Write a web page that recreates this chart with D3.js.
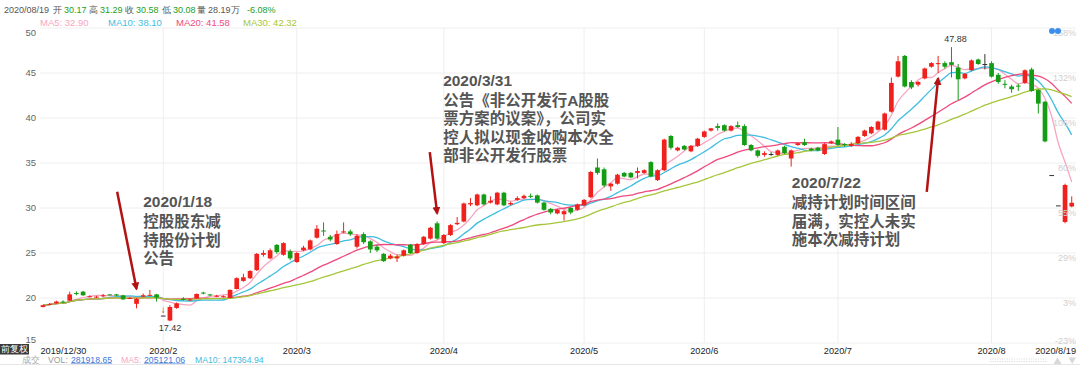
<!DOCTYPE html>
<html>
<head>
<meta charset="utf-8">
<script src="https://cdn.jsdelivr.net/npm/d3@7"></script>
<style>
  html, body { margin: 0; padding: 0; background: #fff; }
  svg { display: block; font-family: "Liberation Sans", Arial, sans-serif; }
</style>
</head>
<body>
<div id="chart"></div>
<script>
// trading days shown, month by month
const MONTH_DAYS = [
  ['2019/12', [30, 31]],
  ['2020/1', [2, 3, 6, 7, 8, 9, 10, 13, 14, 15, 16, 17, 20, 21, 22, 23]],
  ['2020/2', [3, 4, 5, 6, 7, 10, 11, 12, 13, 14, 17, 18, 19, 20, 21, 24, 25, 26, 27, 28]],
  ['2020/3', [2, 3, 4, 5, 6, 9, 10, 11, 12, 13, 16, 17, 18, 19, 20, 23, 24, 25, 26, 27, 30, 31]],
  ['2020/4', [1, 2, 3, 7, 8, 9, 10, 13, 14, 15, 16, 17, 20, 21, 22, 23, 24, 27, 28, 29, 30]],
  ['2020/5', [6, 7, 8, 11, 12, 13, 14, 15, 18, 19, 20, 21, 22, 25, 26, 27, 28, 29]],
  ['2020/6', [1, 2, 3, 4, 5, 8, 9, 10, 11, 12, 15, 16, 17, 18, 19, 22, 23, 24, 29, 30]],
  ['2020/7', [1, 2, 3, 6, 7, 8, 9, 10, 13, 14, 15, 16, 17, 20, 21, 22, 23, 24, 27, 28, 29, 30, 31]],
  ['2020/8', [3, 4, 5, 6, 7, 10, 11, 12, 13, 14, 17, 18, 19]]
]

const OPEN = [
  19.0, 19.25, 19.4, 19.6, 19.7, 20.55, 20.7, 20.1, 20.05, 20.2,
  20.4, 20.4, 20.3, 19.95, 19.35, 20.15, 20.25, 20.4, 18.05, 17.5,
  18.9, 19.9, 19.78, 19.95, 20.6, 20.4, 20.15, 20.1, 20.0, 21.0,
  21.9, 22.2, 23.1, 24.8, 24.4, 25.9, 24.8, 25.2, 24.0, 25.3,
  25.4, 26.7, 27.5, 26.8, 26.0, 27.3, 27.4, 25.7, 27.1, 26.3,
  25.7, 24.9, 24.4, 24.4, 24.7, 25.9, 25.0, 26.0, 26.6, 28.3,
  26.1, 27.0, 28.2, 28.5, 30.4, 30.3, 31.5, 30.6, 30.4, 31.7,
  30.4, 30.9, 31.1, 31.35, 31.4, 30.6, 29.9, 29.4, 29.3, 30.0,
  29.8, 30.3, 31.2, 34.5, 34.3, 32.4, 32.7, 33.9, 33.9, 33.9,
  33.9, 35.1, 33.1, 34.2, 38.0, 36.4, 36.9, 36.3, 36.9, 37.9,
  38.6, 39.1, 39.2, 38.6, 39.2, 39.1, 37.0, 36.4, 35.9, 36.0,
  35.9, 36.8, 35.5, 37.0, 37.3, 36.6, 36.7, 36.0, 37.2, 37.6,
  37.1, 36.9, 37.2, 38.0, 38.3, 38.7, 38.7, 40.7, 44.6, 46.9,
  44.0, 43.7, 44.4, 45.7, 46.0, 46.1, 46.2, 45.6, 44.4, 45.3,
  46.5, 46.0, 46.1, 44.8, 43.8, 43.5, 43.6, 43.9, 45.4, 43.1,
  41.8, 33.66, 30.29, 28.45, 30.17
]
const HIGH = [
  19.25, 19.45, 19.7, 19.75, 20.7, 20.75, 20.8, 20.3, 20.25, 20.45,
  20.45, 20.45, 20.35, 20.1, 20.0, 20.5, 20.9, 20.45, 18.05, 19.2,
  19.5, 20.1, 19.95, 20.5, 20.7, 20.45, 20.35, 20.3, 20.95, 22.3,
  22.7, 23.1, 25.0, 25.3, 25.5, 26.0, 26.2, 25.4, 25.1, 25.8,
  26.5, 28.1, 28.4, 27.0, 27.5, 28.4, 27.6, 27.1, 27.3, 26.4,
  25.9, 25.0, 24.9, 24.8, 25.4, 26.0, 26.1, 26.9, 27.9, 28.5,
  27.1, 28.2, 29.0, 30.6, 31.1, 31.6, 31.6, 31.3, 31.8, 31.8,
  30.7, 31.3, 31.5, 31.6, 31.5, 30.7, 30.0, 29.9, 29.8, 30.1,
  30.5, 31.0, 34.1, 35.5, 34.5, 32.8, 33.8, 34.0, 34.0, 34.5,
  34.3, 35.2, 34.3, 37.7, 38.1, 36.8, 37.0, 37.0, 37.8, 38.6,
  38.9, 39.4, 39.3, 39.2, 39.6, 39.3, 37.1, 36.5, 36.3, 36.2,
  36.5, 36.9, 36.5, 37.3, 37.7, 36.7, 36.8, 37.2, 37.5, 39.0,
  37.2, 37.3, 38.0, 38.7, 39.1, 39.7, 40.6, 44.5, 46.9, 47.0,
  44.2, 44.1, 45.6, 46.2, 46.9, 46.3, 47.88, 46.0, 45.0, 46.5,
  46.6, 47.1, 46.3, 45.0, 44.2, 43.7, 43.8, 45.4, 45.6, 43.2,
  41.9, 33.66, 30.29, 32.7, 31.29
]
const LOW = [
  18.95, 19.2, 19.35, 19.4, 19.65, 20.3, 20.25, 20.05, 20.0, 20.1,
  20.3, 20.2, 19.8, 19.9, 18.85, 20.1, 20.2, 19.6, 18.05, 17.42,
  18.8, 19.7, 19.7, 19.9, 20.4, 20.2, 20.1, 20.05, 19.95, 20.95,
  21.8, 22.1, 23.0, 24.6, 24.3, 24.9, 24.7, 24.2, 23.9, 25.2,
  25.3, 26.6, 26.9, 26.3, 25.9, 27.2, 26.9, 25.5, 26.0, 25.0,
  25.1, 24.0, 24.3, 24.0, 24.6, 24.9, 24.9, 25.9, 26.5, 26.5,
  26.0, 26.9, 28.1, 28.4, 30.2, 30.2, 30.3, 30.5, 30.3, 30.2,
  30.3, 30.8, 31.0, 31.1, 30.5, 29.7, 29.3, 29.3, 28.6, 29.3,
  29.7, 30.2, 31.1, 33.7, 32.3, 31.9, 32.6, 33.4, 33.3, 33.3,
  33.8, 33.4, 33.0, 34.1, 36.5, 36.3, 36.4, 36.2, 36.8, 37.8,
  38.5, 38.6, 38.5, 38.5, 38.9, 36.9, 36.3, 35.6, 35.7, 35.8,
  35.8, 36.0, 34.6, 36.9, 36.9, 36.3, 36.3, 35.9, 37.1, 36.9,
  36.8, 36.8, 37.1, 37.9, 38.2, 38.6, 38.6, 40.6, 44.5, 43.4,
  43.2, 43.5, 44.3, 45.6, 45.0, 45.5, 44.5, 42.0, 44.3, 45.2,
  45.9, 45.4, 44.5, 43.8, 43.3, 42.8, 43.0, 43.8, 42.9, 40.5,
  37.3, 33.66, 30.29, 28.3, 30.08
]
const CLOSE = [
  19.2, 19.35, 19.6, 19.5, 20.4, 20.45, 20.3, 20.2, 20.15, 20.3,
  20.35, 20.3, 19.85, 20.0, 19.9, 20.3, 20.35, 20.05, 18.05, 19.0,
  19.4, 19.8, 19.82, 20.45, 20.5, 20.3, 20.25, 20.2, 20.9, 22.2,
  22.3, 23.0, 24.9, 25.0, 25.3, 25.1, 26.1, 24.4, 25.0, 25.6,
  26.4, 27.7, 27.4, 26.5, 27.1, 27.4, 27.1, 26.9, 26.2, 25.4,
  25.3, 24.1, 24.7, 24.6, 25.3, 25.0, 26.0, 26.8, 27.8, 26.6,
  27.0, 28.1, 28.35, 30.5, 30.55, 31.5, 30.4, 30.8, 31.7, 30.3,
  30.55, 31.1, 31.35, 31.3, 30.6, 29.8, 29.5, 29.8, 29.65, 29.5,
  30.4, 30.9, 34.0, 33.9, 32.5, 32.7, 33.7, 33.5, 33.4, 34.1,
  34.2, 33.5, 34.2, 37.6, 36.7, 36.7, 36.5, 36.9, 37.7, 38.5,
  38.85, 38.9, 38.6, 39.1, 39.0, 37.0, 36.4, 35.8, 36.1, 36.0,
  36.4, 36.1, 36.4, 37.2, 37.0, 36.4, 36.4, 37.1, 37.4, 37.0,
  37.0, 37.1, 37.9, 38.6, 39.0, 39.6, 40.5, 43.9, 46.3, 43.5,
  43.4, 44.0, 45.5, 46.1, 46.1, 45.7, 45.9, 44.3, 44.9, 46.4,
  46.0, 46.0, 44.6, 44.0, 43.7, 43.2, 43.5, 45.3, 43.0, 41.6,
  37.4, 33.66, 30.29, 32.56, 30.58
]

const MA_PERIODS = [5, 10, 20, 30]
const MA_LAST = ['32.90', '38.10', '41.58', '42.32']
const BASE_PRICE = 19.40
const PRICE_TICKS = [15, 20, 25, 30, 35, 40, 45, 50]

const QUOTE_DATE = '2020/08/19'
const QUOTE = [['开', '30.17'], ['高', '31.29'], ['收', '30.58'], ['低', '30.08']]
const QUOTE_VOL = '28.19万'
const QUOTE_CHG = '-6.08%'
const VOL_VALUES = ['281918.65', '205121.06', '147364.94']

const NOTES = [
  { tip: [14, 21.0], tail: [11.1, 31.8], at: [15.0, 30.67],
    lines: ['2020/1/18', '控股股东减', '持股份计划', '公告'] },
  { tip: [59, 29.4], tail: [57.9, 36.2], at: [59.9, 44.2],
    lines: ['2020/3/31', '公告《非公开发行A股股', '票方案的议案》，公司实', '控人拟以现金收购本次全', '部非公开发行股票'] },
  { tip: [134, 44.4], tail: [132.3, 31.8], at: [112.1, 32.8],
    lines: ['2020/7/22', '减持计划时间区间', '届满，实控人未实', '施本次减持计划'] }
]

const COLORS = {
  up: '#f0201c',
  down: '#149c14',
  flat: '#333',
  ma: ['#f7a6c2', '#3fbde0', '#ee4a7d', '#a6c63a'],
  grid: '#eeeeee',
  note: '#555',
  arrow: '#b31212'
}

function drawChart () {
  const W = 1080
  const H = 365
  const dates = MONTH_DAYS.flatMap(([m, days]) => days.map(d => `${m}/${d}`))
  const N = dates.length

  const svg = d3.select('#chart').append('svg')
    .attr('width', W).attr('height', H)

  const x = d3.scaleBand()
    .domain(d3.range(N))
    .range([39.66, 1075.06])
    .paddingInner(0.3)
    .paddingOuter(0.15)
  const step = x.step()
  const cx = i => x(0) + x.bandwidth() / 2 + i * step // also takes fractional positions

  const y = d3.scaleLinear().domain([15, 50]).range([343, 28])

  // grid
  svg.append('g').selectAll('line').data(PRICE_TICKS).join('line')
    .attr('x1', 40).attr('x2', 1076)
    .attr('y1', d => y(d)).attr('y2', d => y(d))
    .attr('stroke', COLORS.grid)

  const monthStarts = d3.range(1, N).filter(i => dates[i].slice(0, 7) !== dates[i - 1].slice(0, 7))
  svg.append('g').selectAll('line').data(monthStarts.slice(1)).join('line')
    .attr('x1', i => cx(i)).attr('x2', i => cx(i))
    .attr('y1', y(50)).attr('y2', y(15))
    .attr('stroke', COLORS.grid)

  // left price labels
  svg.append('g').selectAll('text').data(PRICE_TICKS).join('text')
    .attr('x', 36)
    .attr('y', d => Math.min(339.5, Math.max(33, y(d))))
    .attr('dy', '0.35em')
    .attr('text-anchor', 'end')
    .attr('font-size', 9.5)
    .attr('fill', '#666')
    .text(d => d)

  // moving averages
  const ma = MA_PERIODS.map(p => CLOSE.map((c, i) => d3.mean(CLOSE.slice(Math.max(0, i - p + 1), i + 1))))
  const line = d3.line().x((d, i) => cx(i)).y(d => y(d)).curve(d3.curveMonotoneX)
  svg.append('g').selectAll('path').data(ma).join('path')
    .attr('d', line)
    .attr('fill', 'none')
    .attr('stroke', (d, k) => COLORS.ma[k])
    .attr('stroke-width', 1.3)

  // candles
  const color = i => CLOSE[i] > OPEN[i] ? COLORS.up : CLOSE[i] < OPEN[i] ? COLORS.down : COLORS.flat
  const candles = svg.append('g').selectAll('g').data(d3.range(N)).join('g')
  candles.append('line')
    .attr('x1', i => cx(i)).attr('x2', i => cx(i))
    .attr('y1', i => y(HIGH[i])).attr('y2', i => y(LOW[i]))
    .attr('stroke', color)
    .attr('stroke-width', 1)
  candles.append('rect')
    .attr('x', i => x(i))
    .attr('width', x.bandwidth())
    .attr('y', i => y(Math.max(OPEN[i], CLOSE[i])))
    .attr('height', i => Math.max(1, y(Math.min(OPEN[i], CLOSE[i])) - y(Math.max(OPEN[i], CLOSE[i]))))
    .attr('fill', color)

  // extreme markers
  const hi = d3.maxIndex(HIGH)
  const lo = d3.minIndex(LOW)
  svg.append('text')
    .attr('x', cx(hi) + 4).attr('y', y(HIGH[hi]) - 5)
    .attr('text-anchor', 'middle').attr('font-size', 9).attr('fill', '#333')
    .text(HIGH[hi].toFixed(2))
  svg.append('text')
    .attr('x', cx(lo - 1)).attr('y', y(LOW[lo]) - 8)
    .attr('text-anchor', 'middle').attr('font-size', 9.5).attr('fill', '#333')
    .text('↓')
  svg.append('text')
    .attr('x', cx(lo)).attr('y', y(LOW[lo]) + 7)
    .attr('dy', '0.35em')
    .attr('text-anchor', 'middle').attr('font-size', 9).attr('fill', '#333')
    .text(LOW[lo].toFixed(2))

  // right percent labels
  svg.append('g').selectAll('text').data(PRICE_TICKS).join('text')
    .attr('x', 1076)
    .attr('y', d => Math.min(340.5, y(d) + 5))
    .attr('dy', '0.35em')
    .attr('text-anchor', 'end')
    .attr('font-size', 9)
    .attr('fill', '#cfcfcf')
    .text(d => Math.round((d / BASE_PRICE - 1) * 100) + '%')

  // x labels: first day, month starts, last day
  const xLabels = [{ x: 40.5, t: dates[0], a: 'start' }]
    .concat(monthStarts.slice(1).map(i => ({ x: cx(i), t: dates[i].slice(0, dates[i].lastIndexOf('/')), a: 'middle' })))
    .concat([{ x: 1076, t: dates[N - 1], a: 'end' }])
  svg.append('g').selectAll('text').data(xLabels).join('text')
    .attr('x', d => d.x)
    .attr('y', 350.5).attr('dy', '0.35em')
    .attr('text-anchor', d => d.a)
    .attr('font-size', 9.2).attr('fill', '#222')
    .text(d => d.t)

  // annotations
  svg.append('defs').append('marker')
    .attr('id', 'head').attr('viewBox', '0 0 10 10')
    .attr('refX', 8).attr('refY', 5)
    .attr('markerWidth', 3.2).attr('markerHeight', 3.2)
    .attr('orient', 'auto')
    .append('path').attr('d', 'M0,0 L10,5 L0,10 Z').attr('fill', COLORS.arrow)

  NOTES.forEach(n => {
    svg.append('line')
      .attr('x1', cx(n.tail[0])).attr('y1', y(n.tail[1]))
      .attr('x2', cx(n.tip[0])).attr('y2', y(n.tip[1]))
      .attr('stroke', COLORS.arrow).attr('stroke-width', 2.5)
      .attr('marker-end', 'url(#head)')
    // one text per line; Latin primary font keeps line boxes tight
    svg.append('g').selectAll('text').data(n.lines).join('text')
      .attr('x', cx(n.at[0]))
      .attr('y', (d, k) => y(n.at[1]) + (k === 0 ? 0 : 20 + (k - 1) * 18.5))
      .attr('dy', '0.35em')
      .attr('font-family', '"Liberation Sans", "Noto Sans CJK SC", sans-serif')
      .attr('font-weight', 700)
      .attr('font-size', 15.5)
      .attr('fill', COLORS.note)
      .text(d => d)
  })

  // header quote line
  const head = svg.append('g').attr('font-size', 9)
  head.append('text').attr('x', 4).attr('y', 13).attr('fill', '#555').text(QUOTE_DATE)
  const qx = [53, 89, 125, 162]
  QUOTE.forEach(([k, v], j) => {
    head.append('text').attr('x', qx[j]).attr('y', 13).attr('fill', '#555').text(k)
    head.append('text').attr('x', qx[j] + 11).attr('y', 13).attr('fill', '#22a022').text(v)
  })
  head.append('text').attr('x', 197).attr('y', 13).attr('fill', '#555').text('量')
  head.append('text').attr('x', 208).attr('y', 13).attr('fill', '#555').text(QUOTE_VOL)
  head.append('text').attr('x', 247).attr('y', 13).attr('fill', '#22a022').text(QUOTE_CHG)

  const maX = [40, 108, 176, 243]
  svg.append('g').selectAll('text').data(MA_PERIODS).join('text')
    .attr('x', (d, k) => maX[k]).attr('y', 25.5)
    .attr('font-size', 9.5)
    .attr('fill', (d, k) => COLORS.ma[k])
    .text((d, k) => `MA${d}: ${MA_LAST[k]}`)

  // top-right dots
  svg.append('g').selectAll('circle').data([0, 1]).join('circle')
    .attr('cx', d => 1052 + d * 6).attr('cy', 31).attr('r', 3)
    .attr('fill', '#3b8eea')

  // bottom volume strip
  svg.append('rect').attr('x', 0).attr('y', 344).attr('width', 29).attr('height', 10.5).attr('fill', '#3a3a3a')
  svg.append('text').attr('x', 14.5).attr('y', 349.3).attr('dy', '0.35em')
    .attr('text-anchor', 'middle').attr('font-size', 8.5).attr('fill', '#fff')
    .text('前复权')
  const vol = svg.append('g').attr('font-size', 8.7)
  const vy = 362.5
  vol.append('text').attr('x', 22).attr('y', vy).attr('fill', '#aaa').text('成交')
  vol.append('text').attr('x', 48).attr('y', vy).attr('fill', '#999').text('VOL:')
  vol.append('text').attr('x', 71).attr('y', vy).attr('fill', '#3a78d8')
    .attr('text-decoration', 'underline').text(VOL_VALUES[0])
  vol.append('text').attr('x', 121).attr('y', vy).attr('fill', COLORS.ma[0]).text('MA5:')
  vol.append('text').attr('x', 144).attr('y', vy).attr('fill', '#3a78d8')
    .attr('text-decoration', 'underline').text(VOL_VALUES[1])
  vol.append('text').attr('x', 195).attr('y', vy).attr('fill', COLORS.ma[1]).text(`MA10: ${VOL_VALUES[2]}`)

  svg.append('line').attr('x1', 0).attr('x2', W).attr('y1', 364.5).attr('y2', 364.5).attr('stroke', '#e6e6e6')
  svg.append('g').selectAll('line').data([359, 361.5]).join('line')
    .attr('x1', 990).attr('x2', 1047)
    .attr('y1', d => d).attr('y2', d => d)
    .attr('stroke', '#dddddd').attr('stroke-dasharray', '1.2,1.2')
  svg.append('g').selectAll('path').data([0, 1]).join('path')
    .attr('d', d => d === 0 ? 'M1053.5,364 L1057.5,357.5 L1061.5,364 Z' : 'M1068.5,357.5 L1076,357.5 L1072.2,364 Z')
    .attr('fill', '#d8d8d8')
}

window.addEventListener('DOMContentLoaded', drawChart)
</script>
</body>
</html>
